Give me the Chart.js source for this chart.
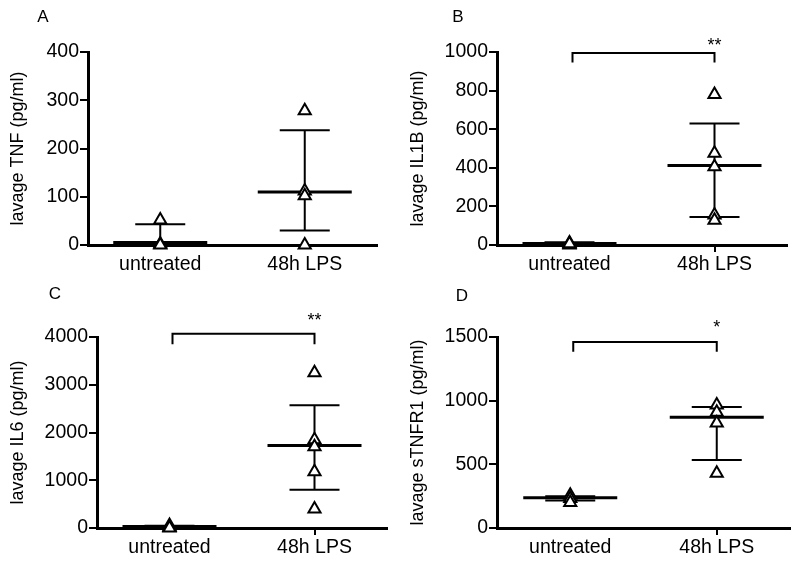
<!DOCTYPE html>
<html>
<head>
<meta charset="utf-8">
<script src="https://cdn.jsdelivr.net/npm/chart.js@4.4.1/dist/chart.umd.min.js"></script>
<style>
  html, body { margin: 0; padding: 0; background: #fff; }
  body { width: 800px; height: 563px; position: relative; overflow: hidden; }
  canvas { position: absolute; }
</style>
</head>
<body>
<canvas id="cA" width="400" height="280" style="left:0;top:0"></canvas>
<canvas id="cB" width="400" height="280" style="left:400px;top:0"></canvas>
<canvas id="cC" width="400" height="283" style="left:0;top:280px"></canvas>
<canvas id="cD" width="400" height="283" style="left:400px;top:280px"></canvas>
<script>
// ---------- data ----------
const categories = ['untreated', '48h LPS'];

// Panel A - TNF
const tnfUntreated = [52, 2, 0];
const tnfLPS = [278, 112, 102, 0];
const tnfMean = [5, 110];
const tnfUpper = [43, 238];
const tnfLower = [-33, 30];
const tnfTicks = [0, 100, 200, 300, 400];

// Panel B - IL1B
const il1bUntreated = [10, 4, 0, 6];
const il1bLPS = [780, 475, 405, 155, 128];
const il1bMean = [8, 412];
const il1bUpper = [14, 630];
const il1bLower = [2, 145];
const il1bTicks = [0, 200, 400, 600, 800, 1000];
const il1bBracket = [995, 945];
const il1bStarLevel = 1055;

// Panel C - IL6
const il6Untreated = [50, 20, 10, 0];
const il6LPS = [3250, 1850, 1700, 1180, 400];
const il6Mean = [30, 1730];
const il6Upper = [45, 2570];
const il6Lower = [15, 800];
const il6Ticks = [0, 1000, 2000, 3000, 4000];
const il6Bracket = [4070, 3850];
const il6StarLevel = 4450;

// Panel D - sTNFR1
const tnfr1Untreated = [258, 232, 200];
const tnfr1LPS = [965, 910, 825, 430];
const tnfr1Mean = [238, 870];
const tnfr1Upper = [250, 950];
const tnfr1Lower = [215, 535];
const tnfr1Ticks = [0, 500, 1000, 1500];
const tnfr1Bracket = [1460, 1385];
const tnfr1StarLevel = 1610;

// ---------- drawing ----------
const FONT = "'Liberation Sans', Arial, sans-serif";

const summaryPlugin = {
  id: 'summary',
  beforeDatasetsDraw(chart, args, o) {
    const { ctx, chartArea: a, scales: { x, y } } = chart;
    ctx.save();
    ctx.beginPath();
    ctx.rect(a.left + 1, a.top - 30, a.width + 30, a.height + 30 + 1);
    ctx.clip();
    ctx.strokeStyle = '#000';
    ctx.lineCap = 'butt';
    o.mean.forEach((m, i) => {
      const cx = x.getPixelForValue(i);
      const ym = y.getPixelForValue(m);
      const yu = y.getPixelForValue(o.upper[i]);
      const yl = y.getPixelForValue(o.lower[i]);
      ctx.lineWidth = 2;
      ctx.beginPath();
      ctx.moveTo(cx, yu); ctx.lineTo(cx, yl);
      ctx.moveTo(cx - 25, yu); ctx.lineTo(cx + 25, yu);
      ctx.moveTo(cx - 25, yl); ctx.lineTo(cx + 25, yl);
      ctx.stroke();
      ctx.lineWidth = 3;
      ctx.beginPath();
      ctx.moveTo(cx - 47, ym); ctx.lineTo(cx + 47, ym);
      ctx.stroke();
    });
    ctx.restore();
  },
  afterDraw(chart, args, o) {
    const { ctx, scales: { x, y } } = chart;
    ctx.save();
    ctx.fillStyle = '#000';
    ctx.strokeStyle = '#000';
    if (o.bracket) {
      const x0 = x.getPixelForValue(0) + 3;
      const x1 = x.getPixelForValue(1);
      const yt = y.getPixelForValue(o.bracket[0]);
      const yd = y.getPixelForValue(o.bracket[1]);
      ctx.lineWidth = 2;
      ctx.beginPath();
      ctx.moveTo(x0, yd); ctx.lineTo(x0, yt); ctx.lineTo(x1, yt); ctx.lineTo(x1, yd);
      ctx.stroke();
      ctx.font = '18px ' + FONT;
      ctx.textAlign = 'center';
      ctx.textBaseline = 'alphabetic';
      ctx.fillText(o.stars, x1, y.getPixelForValue(o.starLevel) + 10);
    }
    ctx.font = '17px ' + FONT;
    ctx.textAlign = 'center';
    ctx.textBaseline = 'middle';
    ctx.fillText(o.letter, o.letterPos[0], o.letterPos[1]);
    ctx.restore();
  }
};

function makePanel(id, p) {
  const pts = (cat, arr) => arr.map(v => ({ x: cat, y: v }));
  const ds = (arr, cat) => ({
    data: pts(cat, arr),
    showLine: false,
    pointStyle: 'triangle',
    pointRadius: 7,
    pointHoverRadius: 7,
    pointBackgroundColor: '#fff',
    pointBorderColor: '#000',
    pointBorderWidth: 2,
    clip: false
  });
  new Chart(document.getElementById(id), {
    type: 'line',
    data: {
      labels: categories,
      datasets: [ds(p.untreated, categories[0]), ds(p.lps, categories[1])]
    },
    options: {
      responsive: false,
      animation: false,
      events: [],
      layout: { padding: { left: 0, top: p.top, right: p.right, bottom: 0 } },
      plugins: {
        legend: { display: false },
        tooltip: { enabled: false },
        summary: {
          mean: p.mean, upper: p.upper, lower: p.lower,
          bracket: p.bracket, stars: p.stars, starLevel: p.starLevel,
          letter: p.letter, letterPos: p.letterPos
        }
      },
      scales: {
        x: {
          type: 'category',
          offset: true,
          afterFit: s => { s.height = p.xHeight; },
          grid: {
            offset: false,
            drawOnChartArea: false,
            drawTicks: true,
            tickLength: 7,
            lineWidth: 2,
            color: c => (p.xTick && c.index === 1) ? '#000' : 'rgba(0,0,0,0)'
          },
          border: { color: '#000', width: 3 },
          ticks: { color: '#000', padding: 1, font: { family: FONT, size: 19.5 } }
        },
        y: {
          min: p.ticks[0],
          max: p.ticks[p.ticks.length - 1],
          afterFit: s => { s.width = p.left; },
          afterBuildTicks: s => { s.ticks = p.ticks.map(v => ({ value: v })); },
          grid: {
            drawOnChartArea: false,
            drawTicks: true,
            tickLength: 8,
            lineWidth: 2,
            color: '#000'
          },
          border: { color: '#000', width: 3 },
          ticks: {
            color: '#000', padding: 1,
            font: { family: FONT, size: 19.5 },
            callback: v => String(v)
          },
          title: {
            display: true,
            text: p.title,
            color: '#000',
            padding: { top: 7, bottom: 0 },
            font: { family: FONT, size: 18 }
          }
        }
      }
    },
    plugins: [summaryPlugin]
  });
}

makePanel('cA', {
  untreated: tnfUntreated, lps: tnfLPS, mean: tnfMean, upper: tnfUpper, lower: tnfLower,
  ticks: tnfTicks, title: 'lavage TNF (pg/ml)', bracket: null, letter: 'A', letterPos: [43, 17],
  left: 88, right: 23, top: 52, xHeight: 35, xTick: false
});
makePanel('cB', {
  untreated: il1bUntreated, lps: il1bLPS, mean: il1bMean, upper: il1bUpper, lower: il1bLower,
  ticks: il1bTicks, title: 'lavage IL1B (pg/ml)', bracket: il1bBracket, stars: '**', starLevel: il1bStarLevel,
  letter: 'B', letterPos: [58, 17], left: 97, right: 13, top: 52, xHeight: 35, xTick: true
});
makePanel('cC', {
  untreated: il6Untreated, lps: il6LPS, mean: il6Mean, upper: il6Upper, lower: il6Lower,
  ticks: il6Ticks, title: 'lavage IL6 (pg/ml)', bracket: il6Bracket, stars: '**', starLevel: il6StarLevel,
  letter: 'C', letterPos: [55, 14], left: 97, right: 13, top: 57, xHeight: 35, xTick: true
});
makePanel('cD', {
  untreated: tnfr1Untreated, lps: tnfr1LPS, mean: tnfr1Mean, upper: tnfr1Upper, lower: tnfr1Lower,
  ticks: tnfr1Ticks, title: 'lavage sTNFR1 (pg/ml)', bracket: tnfr1Bracket, stars: '*', starLevel: tnfr1StarLevel,
  letter: 'D', letterPos: [62, 16], left: 97, right: 10, top: 57, xHeight: 35, xTick: true
});
</script>
</body>
</html>
